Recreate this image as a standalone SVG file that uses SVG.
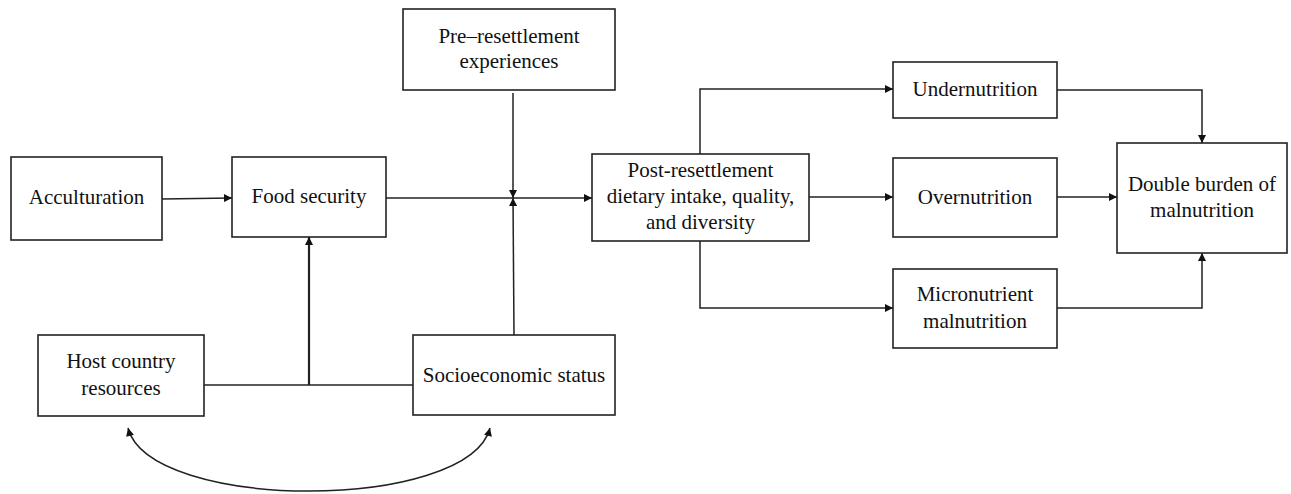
<svg xmlns="http://www.w3.org/2000/svg" width="1291" height="494" viewBox="0 0 1291 494">
<style>
.box{fill:#fff;stroke:#222;stroke-width:1.6}
.t{font-family:"Liberation Serif","Times New Roman",serif;font-size:21px;fill:#111;text-anchor:middle}
.c{fill:none;stroke:#222;stroke-width:1.5}
</style>
<defs>
<marker id="ah" viewBox="0 0 10 10" refX="10" refY="5" markerWidth="9" markerHeight="8" markerUnits="userSpaceOnUse" orient="auto-start-reverse">
<path d="M0,0 L10,5 L0,10 z" fill="#111"/>
</marker>
</defs>
<rect width="1291" height="494" fill="#fff"/>
<g id="connectors">
<path class="c" d="M162,199 L232,198" marker-end="url(#ah)"/>
<path class="c" d="M386,198 L592,198" marker-end="url(#ah)"/>
<path class="c" d="M513,93 L513,198" marker-end="url(#ah)"/>
<path class="c" d="M514,335 L513,198" marker-end="url(#ah)"/>
<path class="c" d="M204,385 L413,385"/>
<path class="c" style="stroke-width:2.2" d="M309,385 L309,237" marker-end="url(#ah)"/>
<path class="c" d="M700,154 L700,89 L893,89" marker-end="url(#ah)"/>
<path class="c" d="M809,197 L893,197" marker-end="url(#ah)"/>
<path class="c" d="M700,241 L700,308 L893,308" marker-end="url(#ah)"/>
<path class="c" d="M1057,90 L1202,90 L1202,143" marker-end="url(#ah)"/>
<path class="c" d="M1057,197 L1117,197" marker-end="url(#ah)"/>
<path class="c" d="M1057,308 L1202,308 L1202,253" marker-end="url(#ah)"/>
<path class="c" d="M128,428 C150,512 468,512 490,428" marker-start="url(#ah)" marker-end="url(#ah)"/>
</g>
<g id="acculturation"><rect class="box" x="11" y="157" width="151" height="83"/><text class="t" x="86.5" y="204">Acculturation</text></g>
<g id="food-security"><rect class="box" x="232" y="157" width="154" height="80"/><text class="t" x="309" y="203">Food security</text></g>
<g id="pre-resettlement"><rect class="box" x="403" y="9" width="212" height="81"/><text class="t" x="509" y="43">Pre–resettlement</text><text class="t" x="509" y="68">experiences</text></g>
<g id="post-resettlement"><rect class="box" x="592" y="154" width="217" height="87"/><text class="t" x="700.5" y="177">Post-resettlement</text><text class="t" x="700.5" y="203">dietary intake, quality,</text><text class="t" x="700.5" y="229">and diversity</text></g>
<g id="undernutrition"><rect class="box" x="893" y="62" width="164" height="56"/><text class="t" x="975" y="96">Undernutrition</text></g>
<g id="overnutrition"><rect class="box" x="893" y="158" width="164" height="79"/><text class="t" x="975" y="204">Overnutrition</text></g>
<g id="micronutrient"><rect class="box" x="893" y="269" width="164" height="79"/><text class="t" x="975" y="301">Micronutrient</text><text class="t" x="975" y="328">malnutrition</text></g>
<g id="double-burden"><rect class="box" x="1117" y="143" width="170" height="110"/><text class="t" x="1202" y="191">Double burden of</text><text class="t" x="1202" y="217">malnutrition</text></g>
<g id="host-country"><rect class="box" x="38" y="335" width="166" height="81"/><text class="t" x="121" y="368">Host country</text><text class="t" x="121" y="395">resources</text></g>
<g id="socioeconomic"><rect class="box" x="413" y="335" width="202" height="80"/><text class="t" x="514" y="382">Socioeconomic status</text></g>
</svg>
